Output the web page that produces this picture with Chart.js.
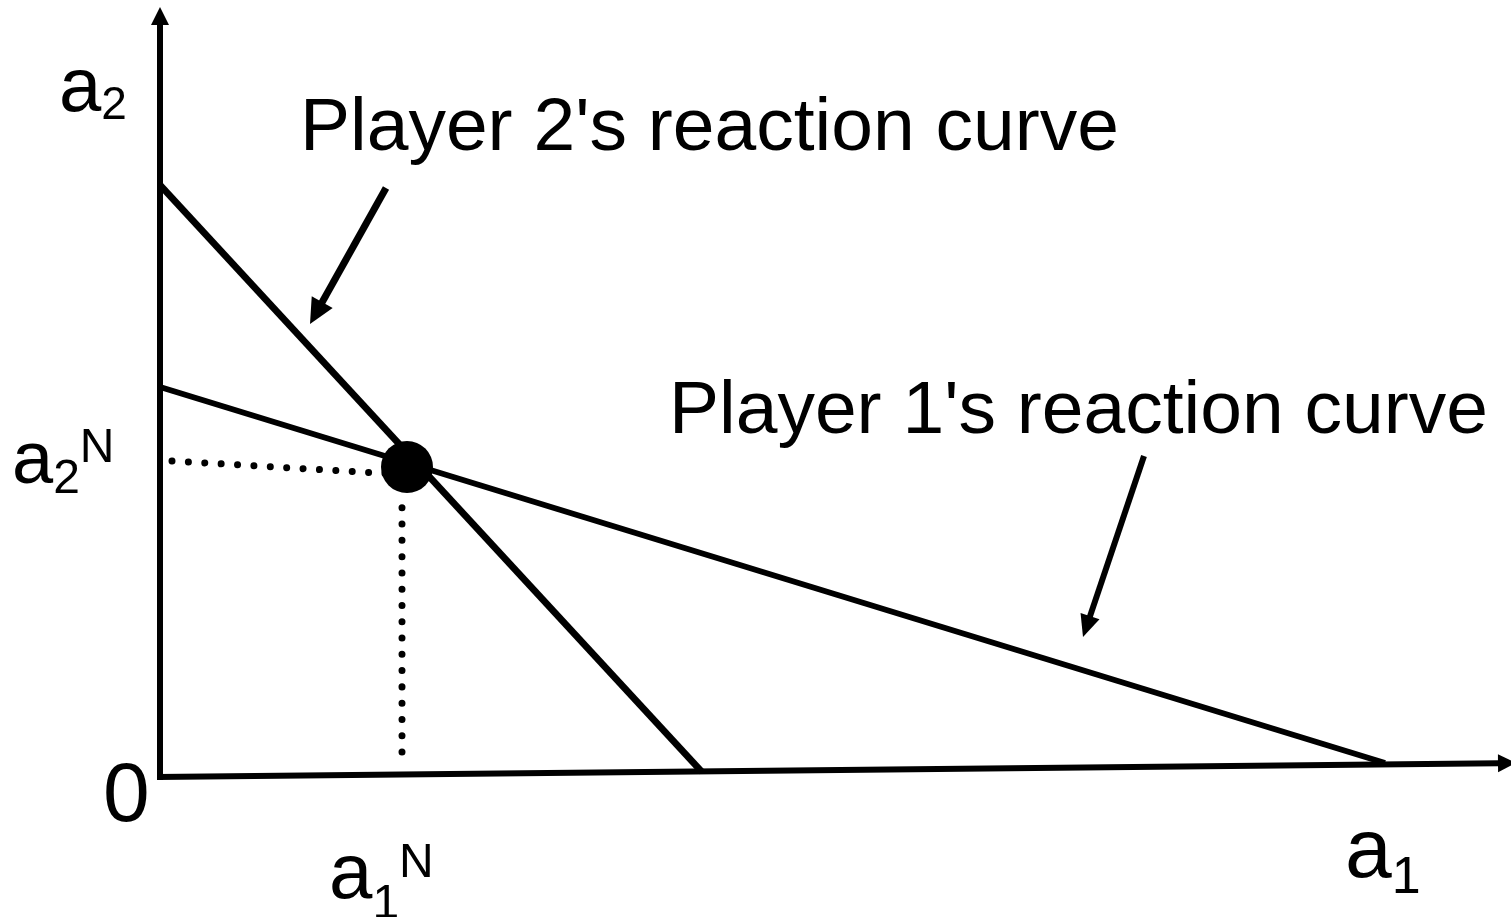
<!DOCTYPE html>
<html>
<head>
<meta charset="utf-8">
<script src="https://cdn.jsdelivr.net/npm/chart.js@4"></script>
<style>
  html, body { margin: 0; padding: 0; background: #fff; }
  #wrap { width: 1511px; height: 917px; }
</style>
</head>
<body>
<div id="wrap"><canvas id="chart" width="1511" height="917"></canvas></div>
<script>
// plot units, origin at the corner of the two axes
const player2Curve = [[0, 592], [542, 5]];
const player1Curve = [[0, 390], [1225, 14]];
const nashPoint = [[247, 310]];
const guideH = [[12, 316], [235, 303]];
const guideV = [[242, 25], [242, 285]];
const axisX = [[-3, 0], [1356, 14]];
const axisY = [[0, -3], [0, 770]];
const pointer2 = [[226, 589], [150, 453]];
const pointer1 = [[984, 321], [923, 140]];

const curveLabels = ["Player 2's reaction curve", "Player 1's reaction curve"];
const symbolLabels = [
  ["a", "2", ""],   // a2 (y axis)
  ["a", "2", "N"],  // a2N
  ["0", "", ""],    // origin
  ["a", "1", "N"],  // a1N
  ["a", "1", ""]    // a1 (x axis)
];

// layout for the labels: anchor (plot units), main size, script size, sub shift, sup shift
const curveLabelAt = [[140, 627], [509, 344]];
const symbolLayout = [
  { at: [-101, 666], size: 76, small: 46, sub: 8, sup: 0 },
  { at: [-148, 294], size: 74, small: 48, sub: 10, sup: -21 },
  { at: [-57, -44], size: 84, small: 0, sub: 0, sup: 0 },
  { at: [169, -121], size: 78, small: 48, sub: 20, sup: -21 },
  { at: [1185, -100], size: 84, small: 52, sub: 16, sup: 0 }
];

const FONT = '"Liberation Sans", Arial, sans-serif';
const INK = "#000";

const pts = (arr) => arr.map(([x, y]) => ({ x, y }));

const line = (data, width, extra) => Object.assign({
  data: pts(data),
  showLine: true,
  borderColor: INK,
  borderWidth: width,
  pointRadius: 0,
  pointHoverRadius: 0,
  clip: false
}, extra || {});

const arrow = (data, width, len, half) => ({
  data: pts(data),
  showLine: false,
  pointRadius: 0,
  pointHoverRadius: 0,
  clip: false,
  arrow: { width, len, half }
});

const datasets = [
  { data: pts(nashPoint), pointRadius: 26, pointHoverRadius: 26, backgroundColor: INK, borderWidth: 0, clip: false },
  line(player2Curve, 7),
  line(player1Curve, 6),
  line(guideH, 7, { borderDash: [0.01, 16.4], borderCapStyle: "round" }),
  line(guideV, 7, { borderDash: [0.01, 16.27], borderCapStyle: "round" }),
  arrow(pointer2, 7, 25, 12),
  arrow(pointer1, 6, 22, 10),
  arrow(axisX, 6, 18, 9),
  arrow(axisY, 6, 18, 9)
];

// shaft + filled head for the datasets flagged as arrows
const arrowPlugin = {
  id: "arrows",
  afterDatasetDraw(chart, args) {
    const ds = chart.data.datasets[args.index];
    if (!ds.arrow) return;
    const el = args.meta.data;
    const a = el[0], b = el[el.length - 1];
    const ang = Math.atan2(b.y - a.y, b.x - a.x);
    const c = Math.cos(ang), s = Math.sin(ang);
    const { width, len, half } = ds.arrow;
    const bx = b.x - c * len, by = b.y - s * len;
    const ctx = chart.ctx;
    ctx.save();
    ctx.strokeStyle = INK;
    ctx.fillStyle = INK;
    ctx.lineWidth = width;
    ctx.lineCap = "butt";
    ctx.beginPath();
    ctx.moveTo(a.x, a.y);
    ctx.lineTo(bx + c, by + s);
    ctx.stroke();
    ctx.beginPath();
    ctx.moveTo(b.x, b.y);
    ctx.lineTo(bx + s * half, by - c * half);
    ctx.lineTo(bx - s * half, by + c * half);
    ctx.closePath();
    ctx.fill();
    ctx.restore();
  }
};

const textPlugin = {
  id: "labels",
  afterDraw(chart) {
    const { ctx, scales } = chart;
    const px = (p) => [scales.x.getPixelForValue(p[0]), scales.y.getPixelForValue(p[1])];
    ctx.save();
    ctx.fillStyle = INK;
    ctx.textBaseline = "alphabetic";
    ctx.textAlign = "left";

    ctx.font = `75px ${FONT}`;
    curveLabels.forEach((t, i) => {
      const [x, y] = px(curveLabelAt[i]);
      ctx.fillText(t, x, y);
    });

    symbolLabels.forEach(([main, sub, sup], i) => {
      const L = symbolLayout[i];
      let [x, y] = px(L.at);
      ctx.font = `${L.size}px ${FONT}`;
      ctx.fillText(main, x, y);
      x += ctx.measureText(main).width;
      ctx.font = `${L.small}px ${FONT}`;
      if (sub) {
        ctx.fillText(sub, x, y + L.sub);
        x += ctx.measureText(sub).width;
      }
      if (sup) ctx.fillText(sup, x, y + L.sup);
    });
    ctx.restore();
  }
};

new Chart(document.getElementById("chart").getContext("2d"), {
  type: "scatter",
  data: { datasets },
  options: {
    responsive: false,
    animation: false,
    events: [],
    layout: { padding: 0, autoPadding: false },
    plugins: { legend: { display: false }, tooltip: { enabled: false } },
    scales: {
      x: { type: "linear", display: false, min: -160, max: 1351 },
      y: { type: "linear", display: false, min: -140, max: 777 }
    }
  },
  plugins: [arrowPlugin, textPlugin]
});
</script>
</body>
</html>
